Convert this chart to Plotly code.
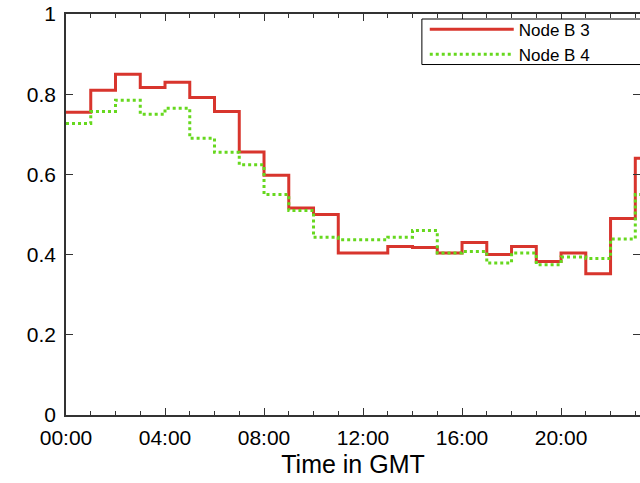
import plotly.graph_objects as go

hours = list(range(0, 25))
node_b3 = [0.755, 0.81, 0.85, 0.817, 0.83, 0.792, 0.757, 0.656, 0.598, 0.516,
           0.50, 0.404, 0.404, 0.42, 0.418, 0.404, 0.43, 0.40, 0.42, 0.383,
           0.404, 0.352, 0.49, 0.64, 0.64]
node_b4 = [0.727, 0.757, 0.785, 0.75, 0.765, 0.69, 0.655, 0.624, 0.55, 0.51,
           0.443, 0.437, 0.437, 0.443, 0.46, 0.404, 0.408, 0.379, 0.404, 0.375,
           0.394, 0.39, 0.439, 0.55, 0.55]
tick_vals = [0, 4, 8, 12, 16, 20]
tick_text = ["00:00", "04:00", "08:00", "12:00", "16:00", "20:00"]
y_ticks = [0, 0.2, 0.4, 0.6, 0.8, 1]
y_text = ["0", "0.2", "0.4", "0.6", "0.8", "1"]

font = "Liberation Sans, Arial, sans-serif"

fig = go.Figure()
fig.add_trace(go.Scatter(x=hours, y=node_b3, mode="lines", name="Node B 3",
                         line=dict(shape="hv", color="#d8352d", width=3)))
fig.add_trace(go.Scatter(x=hours, y=node_b4, mode="lines", name="Node B 4",
                         line=dict(shape="hv", color="#66d81e", width=3, dash="dot")))

# legend frame (extends past the right edge, as in the cropped original)
fig.add_shape(type="rect", xref="paper", yref="paper",
              x0=0.62, x1=1.05, y0=0.874, y1=0.9875,
              line=dict(color="black", width=1), fillcolor="white", layer="above")

fig.update_layout(
    width=640, height=483,
    margin=dict(l=66, r=0, t=14, b=68, autoexpand=False),
    paper_bgcolor="white", plot_bgcolor="white",
    font=dict(family=font, size=21, color="black"),
    showlegend=True,
    legend=dict(x=0.625, y=1.006, xanchor="left", yanchor="top",
                borderwidth=0, bgcolor="rgba(0,0,0,0)",
                font=dict(size=17, family=font), itemwidth=84,
                tracegroupgap=0),
    xaxis=dict(range=[0, 23.19], tickvals=tick_vals, ticktext=tick_text,
               automargin=False,
               ticks="inside", ticklen=7, tickcolor="#333", tickwidth=1,
               minor=dict(dtick=1, tick0=0, ticks="inside", ticklen=4, tickcolor="#333"),
               showline=True, linecolor="#333", linewidth=1.5, mirror="ticks",
               showgrid=False, zeroline=False, ticklabelstandoff=3,
               title=dict(text="Time in GMT", font=dict(size=25, family=font), standoff=8),
               tickfont=dict(size=21, family=font)),
    yaxis=dict(range=[0, 1], tickvals=y_ticks, ticktext=y_text,
               automargin=False,
               ticks="inside", ticklen=7, tickcolor="#333", tickwidth=1,
               showline=True, linecolor="#333", linewidth=1.5, mirror="ticks",
               showgrid=False, zeroline=False, ticklabelstandoff=4,
               tickfont=dict(size=21, family=font)),
)

fig.write_html("out.html",
               config={"displayModeBar": False},
               post_script="document.body.style.margin='0';document.body.style.overflow='hidden';")
